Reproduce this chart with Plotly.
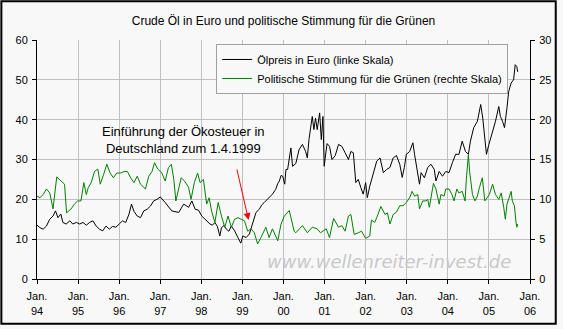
import plotly.graph_objects as go

# Oil price in EUR (left scale), time as decimal years
oil_t = [1994.00, 1994.07, 1994.15, 1994.23, 1994.31, 1994.39, 1994.45, 1994.51, 1994.58, 1994.63,
         1994.71, 1994.80, 1994.87, 1994.96, 1995.04, 1995.12, 1995.20, 1995.28, 1995.36, 1995.44,
         1995.52, 1995.60, 1995.68, 1995.76, 1995.84, 1995.92, 1996.00, 1996.08, 1996.16, 1996.24,
         1996.30, 1996.36, 1996.44, 1996.52, 1996.60, 1996.68, 1996.76, 1996.84, 1996.92, 1997.00,
         1997.12, 1997.28, 1997.45, 1997.57, 1997.69, 1997.77, 1997.85, 1997.93, 1998.01, 1998.09,
         1998.15, 1998.21, 1998.27, 1998.33, 1998.39, 1998.45, 1998.49, 1998.55, 1998.61, 1998.67,
         1998.73, 1998.81, 1998.89, 1998.96, 1999.01, 1999.09, 1999.17, 1999.25, 1999.33, 1999.41,
         1999.47, 1999.53, 1999.61, 1999.67, 1999.73, 1999.81, 1999.86, 1999.90, 1999.94, 1999.98,
         2000.03, 2000.06, 2000.10, 2000.18, 2000.22, 2000.30, 2000.38, 2000.46, 2000.54, 2000.58,
         2000.62, 2000.70, 2000.74, 2000.78, 2000.82, 2000.88, 2000.92, 2000.96, 2000.99, 2001.06,
         2001.12, 2001.18, 2001.26, 2001.34, 2001.42, 2001.50, 2001.58, 2001.64, 2001.70, 2001.76,
         2001.82, 2001.88, 2001.94, 2002.00, 2002.04, 2002.10, 2002.19, 2002.27, 2002.35, 2002.43,
         2002.51, 2002.59, 2002.67, 2002.75, 2002.83, 2002.89, 2002.94, 2002.99, 2003.07, 2003.15,
         2003.19, 2003.25, 2003.31, 2003.35, 2003.43, 2003.51, 2003.59, 2003.67, 2003.71, 2003.79,
         2003.87, 2003.95, 2004.03, 2004.11, 2004.19, 2004.27, 2004.35, 2004.43, 2004.50, 2004.55,
         2004.63, 2004.72, 2004.80, 2004.85, 2004.90, 2004.94, 2005.00, 2005.08, 2005.16, 2005.24,
         2005.28, 2005.33, 2005.38, 2005.44, 2005.48, 2005.54, 2005.60, 2005.64, 2005.68, 2005.70]
oil_eur = [13.5, 12.9, 12.5, 13.3, 15.0, 15.8, 17.1, 15.4, 16.3, 14.2,
           13.8, 14.6, 13.8, 14.2, 13.8, 14.2, 13.5, 14.2, 14.6, 13.3,
           12.5, 12.1, 13.3, 12.5, 13.2, 13.0, 13.8, 14.6, 14.2, 16.3,
           18.8, 17.0, 15.8, 15.4, 17.1, 17.5, 18.3, 19.6, 20.0, 20.6,
           19.2, 17.1, 16.7, 18.8, 18.0, 19.6, 17.5, 17.3, 15.8, 15.0,
           14.6, 13.8, 13.5, 14.2, 13.2, 10.8, 12.9, 13.4, 12.5, 12.0,
           13.3, 12.1, 10.4, 9.0, 10.8, 10.4, 11.3, 14.2, 16.7, 17.5,
           18.6, 19.2, 20.0, 20.6, 21.3, 22.5, 24.0, 24.6, 26.0, 25.8,
           23.8, 27.5, 27.5, 32.9, 28.3, 29.0, 32.5, 33.8, 32.0, 30.4,
           35.0, 40.8, 37.5, 40.4, 37.5, 41.7, 35.0, 40.8, 28.3, 34.0,
           33.3, 30.0, 31.0, 33.8, 33.3, 31.7, 30.0, 32.0, 31.7, 24.2,
           25.0, 23.0, 21.3, 24.2, 20.4, 23.3, 26.7, 29.6, 30.4, 26.7,
           27.5, 28.0, 30.4, 31.0, 28.8, 25.5, 28.0, 31.3, 32.0, 34.2,
           31.3, 27.0, 23.8, 26.7, 25.4, 28.0, 28.8, 27.5, 24.6, 27.0,
           25.8, 27.0, 26.7, 29.2, 31.3, 31.3, 34.6, 32.0, 31.3, 34.6,
           38.0, 39.6, 43.8, 40.4, 34.6, 31.3, 33.8, 36.7, 39.6, 43.3,
           40.8, 39.6, 38.0, 43.0, 47.0, 49.2, 50.0, 53.8, 53.3, 52.0]

# Poll results for the Greens in percent (right scale)
green_t = [1994.00, 1994.07, 1994.15, 1994.23, 1994.31, 1994.39, 1994.48, 1994.59, 1994.67, 1994.72,
           1994.83, 1994.91, 1994.99, 1995.07, 1995.14, 1995.20, 1995.25, 1995.32, 1995.40, 1995.48,
           1995.54, 1995.62, 1995.70, 1995.78, 1995.86, 1995.94, 1996.04, 1996.12, 1996.20, 1996.28,
           1996.36, 1996.44, 1996.52, 1996.64, 1996.72, 1996.80, 1996.86, 1996.94, 1997.04, 1997.12,
           1997.20, 1997.27, 1997.33, 1997.38, 1997.45, 1997.51, 1997.59, 1997.69, 1997.75, 1997.83,
           1997.91, 1997.97, 1998.05, 1998.13, 1998.19, 1998.25, 1998.33, 1998.41, 1998.49, 1998.57,
           1998.65, 1998.73, 1998.81, 1998.89, 1998.97, 1999.05, 1999.13, 1999.21, 1999.29, 1999.37,
           1999.45, 1999.57, 1999.65, 1999.73, 1999.86, 1999.94, 2000.02, 2000.14, 2000.26, 2000.30,
           2000.46, 2000.58, 2000.70, 2000.82, 2000.90, 2001.04, 2001.12, 2001.22, 2001.34, 2001.42,
           2001.50, 2001.58, 2001.64, 2001.72, 2001.82, 2001.90, 2002.00, 2002.10, 2002.14, 2002.22,
           2002.27, 2002.37, 2002.47, 2002.53, 2002.59, 2002.67, 2002.75, 2002.83, 2002.91, 2002.99,
           2003.07, 2003.13, 2003.19, 2003.27, 2003.31, 2003.39, 2003.47, 2003.51, 2003.55, 2003.65,
           2003.71, 2003.79, 2003.83, 2003.91, 2003.95, 2004.03, 2004.10, 2004.15, 2004.22, 2004.27,
           2004.35, 2004.42, 2004.45, 2004.50, 2004.53, 2004.60, 2004.66, 2004.72, 2004.77, 2004.84,
           2004.90, 2004.96, 2005.01, 2005.09, 2005.16, 2005.24, 2005.30, 2005.36, 2005.40, 2005.44,
           2005.49, 2005.54, 2005.57, 2005.62, 2005.66, 2005.68, 2005.70]
green_pct = [10.4, 10.2, 10.6, 11.3, 10.8, 8.8, 12.8, 12.3, 11.9, 8.3,
             8.8, 9.4, 9.8, 9.8, 12.1, 10.6, 11.5, 12.1, 13.5, 13.8,
             11.9, 13.1, 14.4, 13.3, 12.7, 13.3, 13.3, 13.5, 13.5, 12.7,
             12.1, 12.9, 11.9, 11.3, 12.9, 13.5, 14.6, 13.8, 13.3, 12.3,
             14.0, 14.4, 12.5, 9.8, 11.3, 12.7, 12.3, 11.5, 10.0, 12.1,
             13.3, 12.1, 12.5, 9.4, 10.2, 8.5, 7.1, 9.6, 7.9, 6.5,
             7.9, 6.5, 7.5, 7.7, 7.5, 7.3, 6.0, 6.3, 5.8, 4.4,
             5.2, 6.5, 5.2, 6.3, 4.8, 6.9, 7.9, 8.6, 6.0, 5.8,
             6.7, 5.8, 6.5, 6.3, 5.8, 6.3, 5.2, 7.6, 6.5, 6.7,
             6.0, 7.9, 8.1, 5.6, 5.8, 6.0, 5.1, 5.4, 7.4, 7.1,
             7.7, 9.1, 8.1, 8.3, 6.9, 8.1, 8.4, 9.2, 9.2, 9.6,
             10.2, 11.0, 10.4, 10.6, 8.8, 9.8, 9.8, 10.0, 9.0, 12.0,
             11.3, 9.4, 10.6, 10.4, 11.3, 11.3, 10.6, 9.8, 11.3, 10.8,
             11.0, 9.8, 12.5, 15.6, 13.5, 10.6, 9.8, 10.4, 11.5, 12.7,
             9.8, 10.2, 10.6, 11.9, 10.6, 10.0, 10.8, 9.0, 7.5, 9.4,
             10.2, 11.0, 9.8, 9.2, 7.1, 6.5, 6.9]

year_ticks = list(range(1994, 2007))
year_labels = ["Jan.<br>%02d" % (y % 100) for y in year_ticks]

FONT = "Liberation Sans, Arial, sans-serif"
BG = "#f8f8f8"
GRID = "#c0c0c0"

fig = go.Figure()
fig.add_trace(go.Scatter(
    x=oil_t, y=oil_eur, mode="lines", name="Ölpreis in Euro (linke Skala)",
    line=dict(color="black", width=1), yaxis="y"))
fig.add_trace(go.Scatter(
    x=green_t, y=green_pct, mode="lines",
    name="Politische Stimmung für die Grünen (rechte Skala)",
    line=dict(color="#008000", width=1), yaxis="y2"))

fig.update_layout(
    width=563, height=329,
    margin=dict(l=37, r=28, t=40, b=49),
    paper_bgcolor=BG, plot_bgcolor=BG,
    font=dict(family=FONT, size=11, color="black"),
    title=dict(text="Crude Öl in Euro und politische Stimmung für die Grünen",
               x=0.5, xanchor="center", xref="paper", y=1 - 21 / 329, yanchor="middle",
               font=dict(family=FONT, size=12, color="black")),
    xaxis=dict(range=[1994, 2006], tickmode="array", tickvals=year_ticks, ticktext=year_labels,
               showgrid=True, gridcolor=GRID, gridwidth=1, zeroline=False,
               showline=True, linecolor="black", linewidth=1,
               ticks="outside", ticklen=4, tickcolor="black", ticklabelstandoff=3),
    yaxis=dict(range=[0, 60], dtick=10, showgrid=True, gridcolor=GRID, gridwidth=1,
               zeroline=False, showline=True, linecolor="black", linewidth=1,
               ticks="outside", ticklen=4, tickcolor="black", ticklabelstandoff=2),
    yaxis2=dict(range=[0, 30], dtick=5, overlaying="y", side="right", showgrid=False,
                zeroline=False, showline=True, linecolor="black", linewidth=1,
                ticks="outside", ticklen=4, tickcolor="black", ticklabelstandoff=2),
    legend=dict(x=(218 - 37) / 498, y=(280 - 44) / 240, xanchor="left", yanchor="top",
                bgcolor=BG, bordercolor="#a0a0a0", borderwidth=1,
                font=dict(family=FONT, size=11), tracegroupgap=0, itemwidth=30),
    showlegend=True,
)

# Outer frame around the whole chart
fig.add_shape(type="rect", xref="paper", yref="paper",
              x0=(1 - 37) / 498, x1=(561 - 37) / 498, y0=(280 - 325) / 240, y1=(280 - 1) / 240,
              line=dict(color="black", width=2), fillcolor="rgba(0,0,0,0)", layer="above")

# Eco-tax note and arrow
fig.add_annotation(x=(185 - 37) / 498, y=(280 - 140) / 240, xref="paper", yref="paper",
                   text="Einführung der Ökosteuer in<br>Deutschland zum 1.4.1999",
                   showarrow=False, font=dict(family=FONT, size=13, color="black"),
                   align="center", xanchor="center", yanchor="middle")
fig.add_annotation(x=1999.15, y=14.8, xref="x", yref="y", text="",
                   showarrow=True, arrowhead=2, arrowsize=1.4, arrowwidth=1,
                   arrowcolor="#ff0000", ax=-12, ay=-52)

# Website watermark
fig.add_annotation(x=(393 - 37) / 498, y=(280 - 262) / 240, xref="paper", yref="paper",
                   text="www.wellenreiter-invest.de", showarrow=False,
                   font=dict(family="DejaVu Sans, Verdana, sans-serif", size=18,
                             color="#c8c8c8", style="italic"),
                   xanchor="center", yanchor="middle")

fig.write_html("out.html")
